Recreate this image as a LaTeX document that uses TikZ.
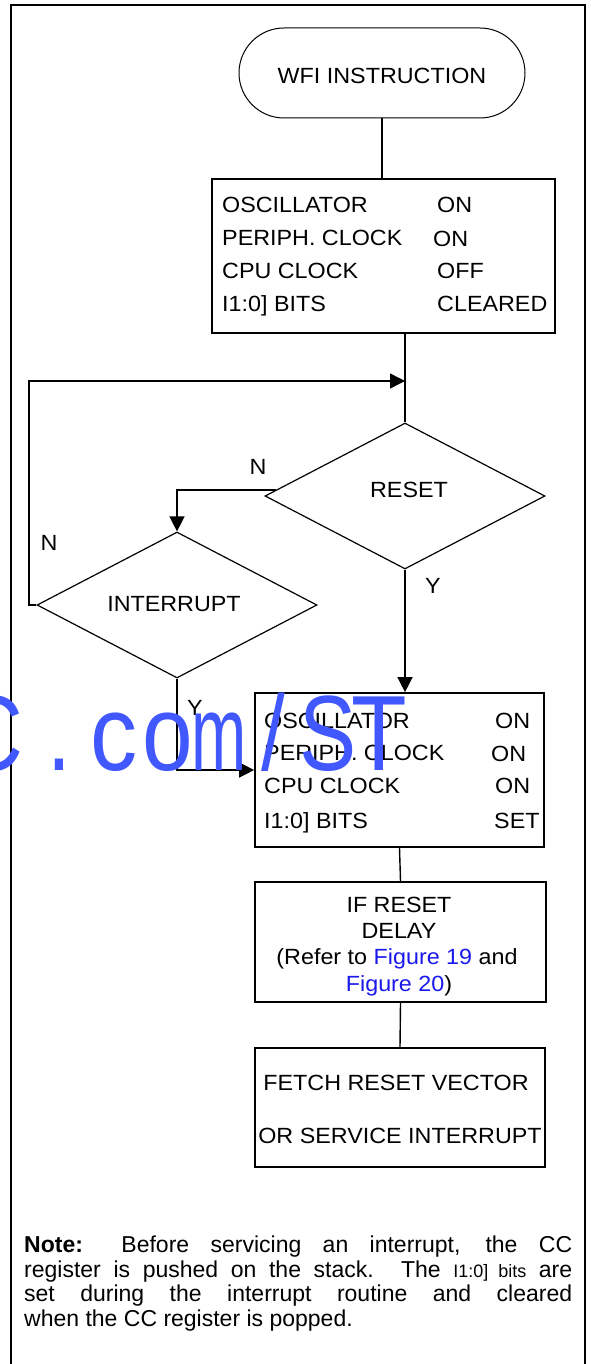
\documentclass[tikz,border=0pt]{standalone}
\usepackage{graphicx}
\usepackage{fontspec}
\setmainfont{Liberation Sans}
\newfontfamily\diagfont[FakeStretch=1.06]{Liberation Sans}
\newfontfamily\wmfont{Liberation Sans}
\usetikzlibrary{shapes.geometric,arrows.meta}
\definecolor{linkblue}{RGB}{25,25,235}
\definecolor{wmblue}{RGB}{66,88,255}
\tikzset{
  fnt/.style={font=\diagfont\fontsize{22}{26}\selectfont},
  txt/.style={fnt, inner sep=0pt},
  term/.style={draw, line width=1pt, rounded corners=45pt, minimum width=286pt, minimum height=90pt, inner sep=0pt},
  box/.style={draw, line width=1.7pt, inner sep=0pt},
  dia/.style={draw, diamond, line width=1.2pt, minimum width=280pt, minimum height=146pt, inner sep=0pt},
  conn/.style={line width=1.4pt},
  arr/.style={line width=1.4pt, -{Triangle[length=15pt,width=15pt]}},
  wm/.style={inner sep=0pt, anchor=base, text=wmblue, font=\wmfont\fontsize{107}{107}\selectfont},
}
\begin{document}
\begin{tikzpicture}[x=1pt,y=-1pt]
\useasboundingbox (0,0) rectangle (590,1364);
% frame
\draw[line width=2pt] (11,1380) -- (11,5) -- (585,5) -- (585,1380);

% start
\node[term] (wfi) at (382,73) {};
\node[txt] (wfiT) at (382,75.5) {WFI INSTRUCTION};

% box 1
\node[box, minimum width=343pt, minimum height=154pt] (b1) at (383.5,256) {};
\node[txt, anchor=base west] (b1a) at (222,213) {OSCILLATOR};
\node[txt, anchor=base west] (b1b) at (222,245) {PERIPH. CLOCK};
\node[txt, anchor=base west] (b1c) at (222,278) {CPU CLOCK};
\node[txt, anchor=base west] (b1d) at (222,311) {I1:0] BITS};
\node[txt, anchor=base west] (b1e) at (437,213) {ON};
\node[txt, anchor=base west] (b1f) at (433,247) {ON};
\node[txt, anchor=base west] (b1g) at (437,278) {OFF};
\node[txt, anchor=base west] (b1h) at (437,311) {CLEARED};

% decisions
\node[dia] (reset) at (405,496) {};
\node[txt] (resetT) at (409,490) {RESET};
\node[dia] (intr) at (177,605) {};
\node[txt] (intrT) at (174,604) {INTERRUPT};

% box 2
\node[box, minimum width=289pt, minimum height=154pt] (b2) at (399.5,770) {};
\node[txt, anchor=base west] (b2a) at (264,728) {OSCILLATOR};
\node[txt, anchor=base west] (b2b) at (264,760) {PERIPH. CLOCK};
\node[txt, anchor=base west] (b2c) at (264,793) {CPU CLOCK};
\node[txt, anchor=base west] (b2d) at (264,828) {I1:0] BITS};
\node[txt, anchor=base west] (b2e) at (495,728) {ON};
\node[txt, anchor=base west] (b2f) at (491,761) {ON};
\node[txt, anchor=base west] (b2g) at (495,793) {ON};
\node[txt, anchor=base west] (b2h) at (494,828) {SET};

% box 3
\node[box, minimum width=291pt, minimum height=120pt] (b3) at (400.5,942) {};
\node[txt, anchor=base] (b3a) at (399,912) {IF RESET};
\node[txt, anchor=base] (b3b) at (399,938) {DELAY};
\node[txt, anchor=base] (b3c) at (397,964) {(Refer to \textcolor{linkblue}{Figure 19} and};
\node[txt, anchor=base] (b3d) at (399,991) {\textcolor{linkblue}{Figure 20})};

% box 4
\node[box, minimum width=290pt, minimum height=119pt] (b4) at (400,1107.5) {};
\node[txt, anchor=base] (b4a) at (396,1090) {FETCH RESET VECTOR};
\node[txt, anchor=base] (b4b) at (400,1143) {OR SERVICE INTERRUPT};

% labels
\node[txt] (nR) at (258,467) {N};
\node[txt] (nI) at (49,543) {N};
\node[txt] (yR) at (433,586) {Y};
\node[txt] (yI) at (195,708) {Y};

% connectors
\coordinate (lp) at (29,381);
\coordinate (jn) at (405,381);
\draw[conn] (wfi.south) -- (wfi.south |- b1.north);
\draw[conn] (b1.south -| reset.north) -- (reset.north);
\draw[arr] (intr.west) -| (lp) -- (jn);
\draw[arr] ([shift={(11.5,-6)}]reset.west) -| (intr.north);
\draw[arr] (reset.south) -- (reset.south |- b2.north);
\draw[arr] (intr.south) |- (b2.west);
\draw[conn] (b2.south) -- (b3.north);
\draw[conn] (b3.south) -- (b4.north);

% note
\node[inner sep=0pt, anchor=north west, text width=548pt, align=justify,
      font=\fontsize{23}{24.5}\selectfont] (note) at (24,1236)
  {\hyphenpenalty=10000 \textbf{Note:} Before servicing an interrupt, the CC\linebreak
   register is pushed on the stack. The {\fontsize{18}{24.5}\selectfont I1:0] bits} are\linebreak
   set during the interrupt routine and cleared\linebreak
   when the CC register is popped.};

% watermark
\node[wm] (wm1) at (-8,770) {\scalebox{0.8}[1]{C}};
\node[wm] (wm2) at (59,770) {\scalebox{0.8}[1]{.}};
\node[wm] (wm3) at (114,770) {\scalebox{0.88}[1]{c}};
\node[wm] (wm4) at (168,770) {\scalebox{0.85}[1]{o}};
\node[wm] (wm5) at (219,770) {\scalebox{0.62}[1]{m}};
\node[wm] (wm6) at (273,770) {\scalebox{0.8}[1]{/}};
\node[wm] (wm7) at (328,770) {\scalebox{0.8}[1]{S}};
\node[wm] (wm8) at (379,770) {\scalebox{0.85}[1]{T}};
\end{tikzpicture}
\end{document}
